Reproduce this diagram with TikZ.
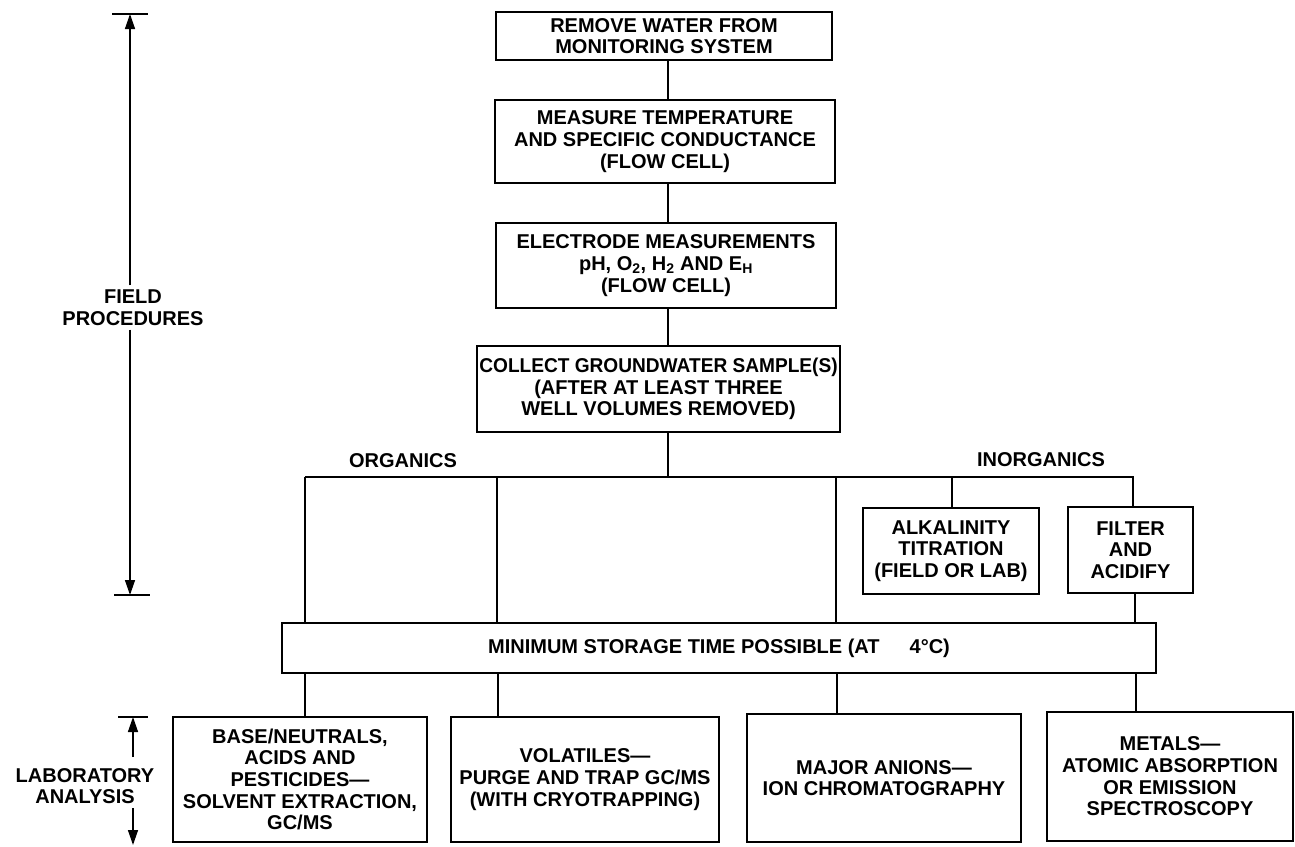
\documentclass[tikz,border=0pt]{standalone}
\usepackage{fontspec}
\usepackage{graphicx}
\setmainfont{Liberation Sans}
\usetikzlibrary{arrows.meta}
\newcommand{\lblfont}{\fontsize{20}{21.7}\selectfont\bfseries}
\tikzset{
  box/.style={draw, line width=1.6pt, align=center, inner sep=0pt, font=\lblfont},
  conn/.style={line width=1.4pt},
  txt/.style={align=center, inner sep=0pt, font=\lblfont},
  dimarrow/.style={line width=1.4pt, -{Triangle[length=15pt,width=10pt]}},
  bar/.style={line width=2pt},
}
\begin{document}
\begin{tikzpicture}[x=1pt,y=-1pt]
\useasboundingbox (0,0) rectangle (1295,846);
% field procedure boxes
\node[box, minimum width=336pt, minimum height=48pt] (b1) at (664,36) {REMOVE WATER FROM\\MONITORING SYSTEM};
\node[box, minimum width=340pt, minimum height=83pt] (b2) at (665,141.5) {MEASURE TEMPERATURE\\AND SPECIFIC CONDUCTANCE\\(FLOW CELL)};
\node[box, minimum width=340pt, minimum height=85pt] (b3) at (666,265.5) {ELECTRODE MEASUREMENTS\\pH, O\textsubscript{2}, H\textsubscript{2} AND E\textsubscript{H}\\(FLOW CELL)};
\node[box, minimum width=363pt, minimum height=86pt] (b4) at (658.5,389) {\scalebox{0.955}[1]{COLLECT GROUNDWATER SAMPLE(S)}\\(AFTER AT LEAST THREE\\WELL VOLUMES REMOVED)};
\node[box, minimum width=176pt, minimum height=86pt] (alk) at (951,551) {ALKALINITY\\TITRATION\\(FIELD OR LAB)};
\node[box, minimum width=125pt, minimum height=86pt] (fil) at (1130.5,550) {FILTER\\AND\\ACIDIFY};
\node[box, minimum width=874pt, minimum height=50pt] (mn) at (719,648) {MINIMUM STORAGE TIME POSSIBLE (AT\hspace{30pt}4°C)};
% lab boxes
\node[box, minimum width=254pt, minimum height=125pt] (base) at (300,779.5) {BASE/NEUTRALS,\\ACIDS AND\\PESTICIDES—\\SOLVENT EXTRACTION,\\GC/MS};
\node[box, minimum width=268pt, minimum height=125pt] (vol) at (585,779.5) {VOLATILES—\\PURGE AND TRAP GC/MS\\(WITH CRYOTRAPPING)};
\node[box, minimum width=274pt, minimum height=128pt] (maj) at (884,778) {MAJOR ANIONS—\\ION CHROMATOGRAPHY};
\node[box, minimum width=246pt, minimum height=129pt] (met) at (1170,776.5) {METALS—\\ATOMIC ABSORPTION\\OR EMISSION\\SPECTROSCOPY};
% group labels
\node[txt] (org) at (403,461) {ORGANICS};
\node[txt] (inorg) at (1041,460) {INORGANICS};
% spine
\coordinate (sp) at (668,0);
\draw[conn] (b1.south -| sp) -- (b2.north -| sp);
\draw[conn] (b2.south -| sp) -- (b3.north -| sp);
\draw[conn] (b3.south -| sp) -- (b4.north -| sp);
\coordinate (hc) at (668,477);
\draw[conn] (b4.south -| hc) -- (hc);
% horizontal distribution line
\coordinate (hl) at (305,477);
\coordinate (hm) at (497,477);
\coordinate (hn) at (836,477);
\coordinate (ha) at (952,477);
\coordinate (hr) at (1133,477);
\draw[conn] (hl) -- (hr) -- (fil.north -| hr);
\draw[conn] (hl) -- (mn.north -| hl);
\draw[conn] (hm) -- (mn.north -| hm);
\draw[conn] (hn) -- (mn.north -| hn);
\draw[conn] (ha) -- (alk.north -| ha);
\coordinate (fx) at (1135,0);
\draw[conn] (fil.south -| fx) -- (mn.north -| fx);
% storage to lab boxes
\coordinate (l1) at (305,0);
\coordinate (l2) at (498,0);
\coordinate (l3) at (837,0);
\coordinate (l4) at (1136,0);
\draw[conn] (mn.south -| l1) -- (base.north -| l1);
\draw[conn] (mn.south -| l2) -- (vol.north -| l2);
\draw[conn] (mn.south -| l3) -- (maj.north -| l3);
\draw[conn] (mn.south -| l4) -- (met.north -| l4);
% field procedures dimension
\node[txt, fill=white, inner sep=4pt] (fp) at (133,307.5) {FIELD\\PROCEDURES};
\coordinate (ftop) at (130,14);
\coordinate (fbot) at (130,595);
\draw[bar] (112,14) -- (148,14);
\draw[bar] (114,595) -- (150,595);
\draw[dimarrow] (fp.north -| ftop) -- (ftop);
\draw[dimarrow] (fp.south -| fbot) -- (fbot);
% laboratory analysis dimension
\node[txt, fill=white, inner sep=4pt] (la) at (85,786) {LABORATORY\\ANALYSIS};
\coordinate (ltop) at (133,717);
\coordinate (lbot) at (133,845);
\draw[bar] (118,717) -- (148,717);
\draw[dimarrow] (133,757) -- (ltop);
\draw[dimarrow] (133,808) -- (lbot);
\end{tikzpicture}
\end{document}
